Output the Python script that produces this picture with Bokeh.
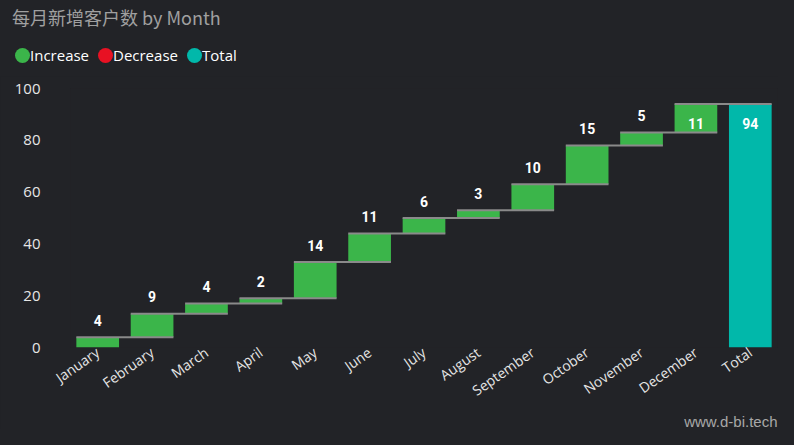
from bokeh.plotting import figure
from bokeh.layouts import column
from bokeh.models import ColumnDataSource, FactorRange, Range1d, FixedTicker, Div, Title
from bokeh.transform import dodge
from bokeh.core.properties import value
from bokeh.embed import file_html
from bokeh.resources import INLINE

# ---- data ----
months = ["January", "February", "March", "April", "May", "June", "July",
          "August", "September", "October", "November", "December"]
increases = [4, 9, 4, 2, 14, 11, 6, 3, 10, 15, 5, 11]
total_label = "Total"
y_ticks = [0, 20, 40, 60, 80, 100]
title_text = "每月新增客户数 by Month"
legend_labels = ["Increase", "Decrease", "Total"]
watermark = "www.d-bi.tech"

# ---- styling / layout ----
BG = "#222327"
COLORS = {"Increase": "#3BB54A", "Decrease": "#E81123", "Total": "#01B8AA"}
TXT = "#E6E6E6"
BAR_W = 0.785
W = 778
HEAD_H, MAIN_H = 76, 353
LEG_GLYPH_X = [22, 105, 194]      # legend layout (px)
LEG_Y = 55

# ---- derived ----
cats = months + [total_label]
tops, bottoms, kinds = [], [], []
running = 0
for v in increases:
    bottoms.append(running)
    running += v
    tops.append(running)
    kinds.append("Increase" if v >= 0 else "Decrease")
bottoms.append(0)
tops.append(running)
kinds.append("Total")
labels = [str(v) for v in increases] + [str(running)]
inside = [t > 90 for t in tops]
label_off = [19 if ins else -17 for ins in inside]

src = ColumnDataSource(dict(cat=cats, top=tops, bottom=bottoms,
                            color=[COLORS[k] for k in kinds],
                            label=labels, off=label_off))
conn = ColumnDataSource(dict(c0=cats[:-1], c1=cats[1:], y=tops[:-1]))

# ---- header: title + legend (HTML) ----
parts = [f'<div style="position:relative;width:{W}px;height:{HEAD_H}px;'
         f'background:{BG};overflow:hidden;margin:0;padding:0">',
         '<span style="position:absolute;left:12px;top:3px;'
         "font-family:'Noto Sans CJK SC';font-size:18px;line-height:28px;"
         f'color:#A0A0A0;white-space:nowrap">{title_text}</span>']
for gx, name in zip(LEG_GLYPH_X, legend_labels):
    parts.append(f'<span style="position:absolute;left:{gx - 7.5}px;'
                 f'top:{LEG_Y - 7.5}px;width:15px;height:15px;border-radius:50%;'
                 f'background:{COLORS[name]}"></span>')
    parts.append(f'<span style="position:absolute;left:{gx + 8}px;'
                 f'top:{LEG_Y - 11}px;font-family:\'Open Sans\';font-size:15px;'
                 f'line-height:22px;color:white;white-space:nowrap">{name}</span>')
parts.append('</div>')
head = Div(text="".join(parts), width=W, height=HEAD_H,
           styles={"margin": "0", "padding": "0", "background": BG})

# ---- main waterfall ----
p = figure(width=W, height=MAIN_H, x_range=FactorRange(*cats),
           y_range=Range1d(0, 100), output_backend="svg",
           toolbar_location=None,
           min_border_left=70, min_border_right=1, min_border_top=12,
           min_border_bottom=50)
p.background_fill_color = BG
p.border_fill_color = BG
p.outline_line_color = None
p.grid.visible = False

p.vbar(x="cat", top="top", bottom="bottom", width=BAR_W, color="color",
       line_color=None, source=src)
p.segment(x0=dodge("c0", -BAR_W / 2, range=p.x_range), y0="y",
          x1=dodge("c1", BAR_W / 2, range=p.x_range), y1="y",
          line_color="#8A8A8A", line_width=2, source=conn)
p.text(x="cat", y="top", text="label", y_offset="off", source=src,
       text_align="center", text_baseline="middle", text_color="white",
       text_font=value("Roboto"), text_font_style="bold",
       text_font_size="14px")

p.yaxis.ticker = FixedTicker(ticks=y_ticks)
p.yaxis.axis_line_color = None
p.yaxis.major_tick_line_color = None
p.yaxis.minor_tick_line_color = None
p.yaxis.major_tick_out = 0
p.yaxis.major_label_standoff = 30
p.yaxis.major_label_text_color = TXT
p.yaxis.major_label_text_font = "Open Sans"
p.yaxis.major_label_text_font_size = "15px"

p.xaxis.axis_line_color = None
p.xaxis.major_tick_line_color = None
p.xaxis.major_tick_out = 0
p.xaxis.major_label_standoff = 3
p.xaxis.major_label_orientation = 0.61
p.xaxis.major_label_text_color = TXT
p.xaxis.major_label_text_font = "Open Sans"
p.xaxis.major_label_text_font_size = "14px"

# watermark, right-aligned below the axis
p.add_layout(Title(text=watermark, align="right", standoff=0,
                   text_font="Liberation Sans", text_font_size="15px",
                   text_font_style="normal", text_color="#A8A8A8"), "below")

layout = column(head, p, spacing=0)
html = file_html(layout, INLINE)
html = html.replace("<head>", f"<head><style>html,body{{background:{BG};}}</style>", 1)
open("out.html", "w").write(html)
